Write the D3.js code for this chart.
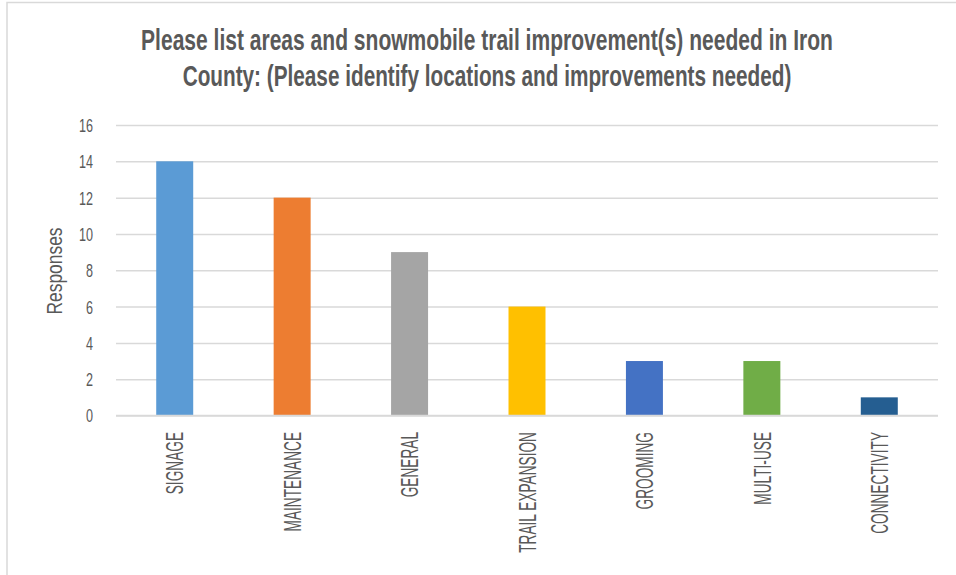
<!DOCTYPE html>
<html>
<head>
<meta charset="utf-8">
<script src="https://cdn.jsdelivr.net/npm/d3@7"></script>
<style>
  html, body { margin: 0; padding: 0; background: #fff; }
  svg { display: block; }
  text { font-family: "Liberation Sans", Arial, sans-serif; fill: #595959; }
</style>
</head>
<body>
<svg id="chart" width="956" height="575"></svg>
<script>
const categories = ["SIGNAGE", "MAINTENANCE", "GENERAL", "TRAIL EXPANSION", "GROOMING", "MULTI-USE", "CONNECTIVITY"];
const responses = [14, 12, 9, 6, 3, 3, 1];
const barColors = ["#5B9BD5", "#ED7D31", "#A5A5A5", "#FFC000", "#4472C4", "#70AD47", "#255E91"];
const yTicks = [0, 2, 4, 6, 8, 10, 12, 14, 16];
const titleLines = ["Please list areas and snowmobile trail improvement(s) needed in Iron",
                    "County: (Please identify locations and improvements needed)"];
const yAxisTitle = "Responses";

const svg = d3.select("#chart");

// chart border
svg.append("rect")
  .attr("x", 7).attr("y", 2.5)
  .attr("width", 1200).attr("height", 1200)
  .attr("fill", "none").attr("stroke", "#D9D9D9").attr("stroke-width", 1.5);

const x = d3.scaleBand().domain(categories).range([116, 938]).paddingInner(0.685).paddingOuter(0.3425);
const y = d3.scaleLinear().domain([0, 16]).range([415.5, 125]);

// gridlines
const grid = d3.axisLeft(y).tickValues(yTicks).tickSize(-(938 - 116)).tickFormat("");
const g = svg.append("g").attr("transform", "translate(116,0)").call(grid);
g.select(".domain").remove();
g.selectAll(".tick line").attr("stroke", "#D9D9D9").attr("stroke-width", 1.5);

// y tick labels
const yAxis = d3.axisLeft(y).tickValues(yTicks).tickSize(0).tickPadding(0);
const ya = svg.append("g").attr("transform", "translate(93,0)").call(yAxis);
ya.select(".domain").remove();
ya.selectAll(".tick text")
  .attr("x", 0).attr("dy", "0.36em")
  .style("font-family", '"Liberation Sans", Arial, sans-serif')
  .style("font-size", "18px").attr("fill", "#595959")
  .attr("transform", "scale(0.7,1)")
  .attr("text-anchor", "end");

// bars
svg.append("g").selectAll("rect")
  .data(categories)
  .join("rect")
  .attr("x", (d) => x(d))
  .attr("width", x.bandwidth())
  .attr("y", (d, i) => y(responses[i]))
  .attr("height", (d, i) => y(0) - y(responses[i]))
  .attr("fill", (d, i) => barColors[i]);

// x axis line
svg.append("line")
  .attr("x1", 116).attr("x2", 938).attr("y1", 415.5).attr("y2", 415.5)
  .attr("stroke", "#D9D9D9").attr("stroke-width", 1.5);

// x labels
const xAxis = d3.axisBottom(x).tickSize(0).tickPadding(0);
const xa = svg.append("g").attr("transform", "translate(0,432)").call(xAxis);
xa.select(".domain").remove();
xa.selectAll(".tick text")
  .attr("y", 0).attr("x", 0).attr("dy", "0.36em")
  .attr("text-anchor", "end")
  .attr("transform", "rotate(-90) scale(0.57,1)")
  .style("font-family", '"Liberation Sans", Arial, sans-serif')
  .style("font-size", "24px").attr("fill", "#595959");

// y axis title
svg.append("text")
  .attr("transform", "translate(62,271) rotate(-90) scale(0.81,1)")
  .attr("text-anchor", "middle")
  .style("font-size", "21.5px")
  .text(yAxisTitle);

// title (compressed horizontally to mimic a condensed face)
const titleBaselines = [50, 86];
const titleWidths = [692, 609];
svg.selectAll(".title")
  .data(titleLines)
  .join("text")
  .attr("class", "title")
  .attr("text-anchor", "middle")
  .style("font-size", "29px").style("font-weight", "bold")
  .text(d => d)
  .attr("transform", function (d, i) {
    const len = this.getComputedTextLength();
    const k = titleWidths[i] / len;
    return `translate(487,${titleBaselines[i]}) scale(${k},1)`;
  });
</script>
</body>
</html>
